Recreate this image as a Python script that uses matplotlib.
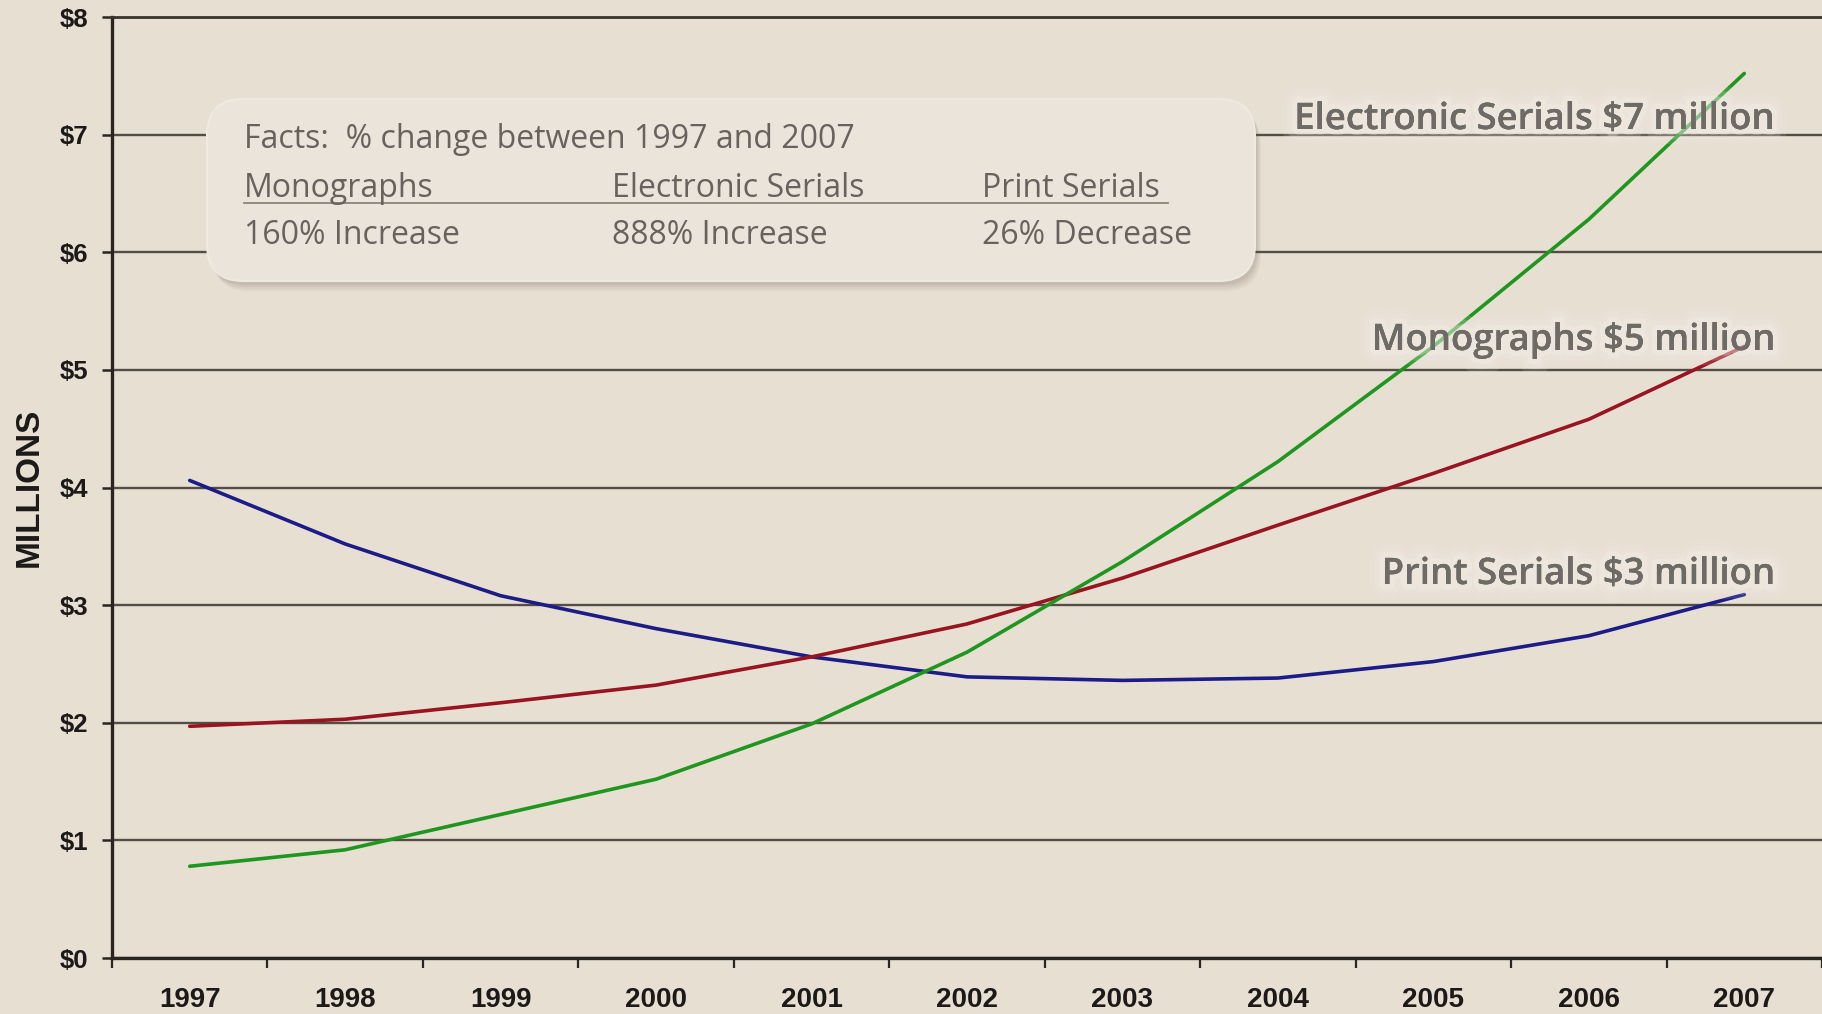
import numpy as np
import matplotlib
matplotlib.use("Agg")
import matplotlib.pyplot as plt
from matplotlib.patches import FancyBboxPatch
import matplotlib.patheffects as pe

# ---- data ----
years = ["1997", "1998", "1999", "2000", "2001", "2002", "2003", "2004", "2005", "2006", "2007"]
print_serials = [4.06, 3.52, 3.08, 2.80, 2.56, 2.39, 2.36, 2.38, 2.52, 2.74, 3.09]
monographs = [1.97, 2.03, 2.17, 2.32, 2.56, 2.84, 3.23, 3.68, 4.12, 4.58, 5.20]
electronic = [0.78, 0.92, 1.22, 1.52, 1.99, 2.60, 3.37, 4.22, 5.20, 6.28, 7.52]
y_ticks = [0, 1, 2, 3, 4, 5, 6, 7, 8]
y_labels = ["$0", "$1", "$2", "$3", "$4", "$5", "$6", "$7", "$8"]
facts_title = "Facts:  % change between 1997 and 2007"
facts_heads = ["Monographs", "Electronic Serials", "Print Serials"]
facts_vals = ["160% Increase", "888% Increase", "26% Decrease"]
end_labels = ["Electronic Serials $7 million", "Monographs $5 million", "Print Serials $3 million"]

W, H = 1822, 1014
BG = "#e8dfd3"
fig = plt.figure(figsize=(W / 100, H / 100), dpi=100)
fig.patch.set_facecolor(BG)

def fx(px):
    return px / W

def fy(py):
    return 1 - py / H

ax = fig.add_axes([fx(112), fy(958), 1 - fx(112), (958 - 17) / H])
ax.set_facecolor(BG)

x = np.arange(len(years))
ax.set_xlim(-0.5, len(years) - 0.5)
ax.set_ylim(0, 8)

# grid
ax.set_yticks(y_ticks)
ax.set_yticklabels(y_labels)
ax.yaxis.grid(True, color="#544d45", lw=1.7, zorder=1)
ax.set_axisbelow(True)

ax.set_xticks(x)
ax.set_xticklabels(years)
ax.set_xticks(np.arange(-0.5, len(years)), minor=True)
ax.tick_params(axis="x", which="major", length=0, pad=21)
ax.tick_params(axis="x", which="minor", length=7, width=1.6, color="#2a2520", direction="out")
ax.tick_params(axis="y", length=7, width=1.8, color="#2a2520", pad=10)

for lab in ax.get_xticklabels():
    lab.set_fontfamily("Liberation Sans")
    lab.set_fontweight("bold")
    lab.set_fontsize(20)
    lab.set_color("#1c1a18")
for lab in ax.get_yticklabels():
    lab.set_fontfamily("Liberation Sans")
    lab.set_fontweight("bold")
    lab.set_fontsize(18.5)
    lab.set_color("#1c1a18")

for s in ["left", "bottom"]:
    ax.spines[s].set_color("#2a2520")
    ax.spines[s].set_linewidth(2.4)
ax.spines["top"].set_color("#3a342e")
ax.spines["top"].set_linewidth(2.0)
ax.spines["right"].set_visible(False)

ax.set_ylabel("MILLIONS", fontfamily="Liberation Sans", fontweight="bold",
               fontsize=24, color="#1c1a18")
ax.yaxis.set_label_coords(-(112 - 45) / (W - 112), 0.5)

# lines
ax.plot(x, print_serials, color="#1c1c86", lw=2.6, zorder=3, solid_capstyle="round")
ax.plot(x, monographs, color="#981421", lw=2.6, zorder=3, solid_capstyle="round")
ax.plot(x, electronic, color="#1f961f", lw=2.6, zorder=3, solid_capstyle="round")

# end labels with soft glow
glow = [pe.withStroke(linewidth=22, foreground="#f3eee6", alpha=0.12),
        pe.withStroke(linewidth=15, foreground="#f3eee6", alpha=0.18),
        pe.withStroke(linewidth=8, foreground="#f5f1ea", alpha=0.3),
        pe.Normal()]
label_pos = [(1776, 120), (1776, 341), (1776, 575)]
for txt, (px, py) in zip(end_labels, label_pos):
    fig.text(fx(px), fy(py), txt, ha="right", va="center", fontsize=26.3,
             family="Open Sans", fontweight="semibold", color="#6e6a66",
             path_effects=glow, zorder=10)

# facts box with shadow
bx0, by0, bx1, by1 = 207, 99, 1255, 281
for i, a in enumerate([0.05, 0.06, 0.07, 0.08]):
    off = 10 - i * 2
    sh = FancyBboxPatch((fx(bx0 + off * 0.6), fy(by1 + off)),
                        fx(bx1 - bx0), (by1 - by0) / H,
                        boxstyle="round,pad=0,rounding_size=0.02",
                        transform=fig.transFigure, facecolor="#5a4f40",
                        edgecolor="none", alpha=a, zorder=5, mutation_aspect=W / H)
    fig.add_artist(sh)
box = FancyBboxPatch((fx(bx0), fy(by1)), fx(bx1 - bx0), (by1 - by0) / H,
                     boxstyle="round,pad=0,rounding_size=0.02",
                     transform=fig.transFigure, facecolor="#ebe4da",
                     edgecolor="#efe9e1", lw=1.5, zorder=6, mutation_aspect=W / H)
fig.add_artist(box)

tcol = "#67625d"
fs = 23
fig.text(fx(244), fy(139), facts_title, ha="left", va="center", fontsize=fs,
         family="Open Sans", color=tcol, zorder=7)
col_x = [244, 612, 982]
for cx, h, v in zip(col_x, facts_heads, facts_vals):
    fig.text(fx(cx), fy(188), h, ha="left", va="center", fontsize=fs,
             family="Open Sans", color=tcol, zorder=7)
    fig.text(fx(cx), fy(236), v, ha="left", va="center", fontsize=fs,
             family="Open Sans", color=tcol, zorder=7)
fig.add_artist(plt.Line2D([fx(244), fx(1168)], [fy(203), fy(203)],
                          transform=fig.transFigure, color="#8a847d", lw=1.3, zorder=7))

fig.savefig("out.png", dpi=100, facecolor=fig.get_facecolor())
